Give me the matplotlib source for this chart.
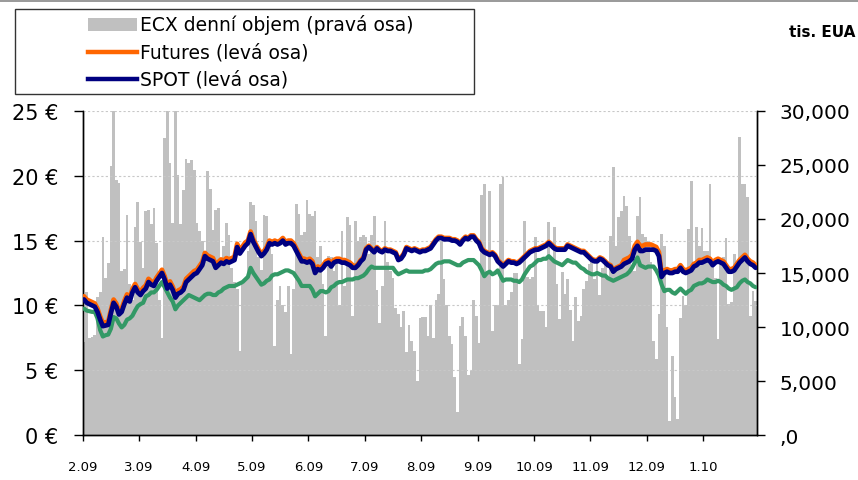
import matplotlib
matplotlib.use("Agg")
import matplotlib.pyplot as plt
from matplotlib.lines import Line2D
from matplotlib.patches import Rectangle
import numpy as np

plt.rcParams['font.family'] = ['DejaVu Sans']

month_labels = ["2.09", "3.09", "4.09", "5.09", "6.09", "7.09", "8.09",
                "9.09", "10.09", "11.09", "12.09", "1.10"]
days_per_tick = 21

# ECX daily volume (thousand EUA), right axis
volume = [
    8.6, 13.2, 9.0, 9.1, 9.3, 12.8, 13.2, 18.3, 14.5, 15.9,
    24.9, 31.0, 23.6, 23.3, 15.2, 15.4, 20.4, 14.0, 12.5, 19.3,
    21.6, 17.9, 15.5, 20.7, 20.8, 19.5, 21.0, 17.8, 12.5, 9.0,
    27.5, 31.0, 25.2, 19.6, 31.0, 24.1, 19.5, 22.7, 25.6, 25.2,
    25.5, 24.5, 19.6, 18.9, 18.0, 16.0, 24.4, 22.8, 19.0, 20.8,
    21.0, 16.3, 17.5, 19.6, 18.5, 15.5, 14.2, 13.5, 7.8, 14.0,
    14.5, 17.0, 21.6, 21.3, 19.8, 16.5, 15.3, 20.4, 20.3, 17.4,
    16.8, 8.2, 12.5, 13.8, 12.0, 11.4, 13.8, 7.5, 13.5, 21.4,
    20.5, 18.5, 18.8, 21.8, 20.5, 20.3, 20.7, 16.5, 17.5, 14.0,
    9.2, 16.6, 16.5, 15.2, 15.9, 12.0, 18.9, 13.8, 20.2, 19.4,
    11.0, 19.8, 18.0, 18.3, 18.5, 18.3, 16.8, 18.5, 20.3, 13.4,
    10.4, 13.8, 19.8, 16.0, 15.2, 14.5, 11.8, 11.2, 10.0, 11.5,
    7.7, 10.2, 8.7, 7.8, 5.0, 10.8, 10.9, 10.9, 9.2, 12.0,
    9.0, 12.5, 13.1, 18.0, 14.4, 12.0, 9.2, 8.4, 5.4, 2.1,
    10.1, 10.9, 9.2, 5.6, 5.9, 12.5, 11.0, 8.5, 22.2, 23.2,
    15.0, 22.6, 9.6, 12.0, 12.0, 23.2, 23.9, 12.0, 12.5, 13.2,
    15.0, 15.0, 6.6, 8.9, 19.8, 14.6, 14.4, 14.6, 18.3, 12.0,
    11.5, 11.5, 10.0, 19.7, 16.3, 19.3, 14.0, 10.7, 15.1, 13.1,
    14.4, 11.6, 8.7, 12.8, 10.6, 11.0, 13.5, 14.3, 15.8, 16.3,
    14.4, 16.0, 13.0, 15.5, 16.3, 14.5, 18.4, 24.8, 17.5, 20.2,
    20.7, 22.1, 21.2, 18.4, 15.6, 15.2, 20.3, 22.0, 18.6, 18.3,
    18.0, 16.0, 8.7, 7.0, 11.2, 18.6, 17.5, 10.0, 1.3, 7.3,
    3.5, 1.5, 10.8, 12.9, 12.0, 19.1, 23.5, 15.6, 19.3, 17.5,
    19.2, 17.0, 17.0, 23.2, 15.7, 14.5, 8.9, 15.7, 16.5, 18.2,
    12.1, 12.3, 16.8, 15.7, 27.6, 23.2, 23.2, 22.0, 11.0, 13.3,
    12.4,
]

# SPOT price (EUR), left axis
spot = [
    10.46, 10.2, 10.1, 10.0, 9.9, 9.5, 8.9, 8.4, 8.45, 8.5,
    9.4, 10.2, 9.9, 9.3, 9.5, 10.1, 10.6, 10.3, 11.0, 11.4,
    11.0, 10.8, 11.1, 11.3, 11.8, 11.6, 11.5, 11.9, 12.2, 12.5,
    12.0, 11.3, 11.6, 11.2, 10.6, 10.9, 11.0, 11.2, 11.8, 12.0,
    12.2, 12.4, 12.5, 12.8, 13.1, 13.8, 13.6, 13.5, 13.4, 12.9,
    13.1, 13.3, 13.2, 13.4, 13.3, 13.4, 13.5, 14.5, 14.0, 14.3,
    14.6, 14.8, 15.5, 14.9, 14.5, 14.1, 13.8, 14.0, 14.3, 14.8,
    14.7, 14.8, 14.7, 14.8, 15.0, 14.7, 14.8, 14.8, 14.6, 14.2,
    13.8, 13.4, 13.4, 13.3, 13.4, 13.2, 12.5, 12.8, 12.7, 12.9,
    13.2, 13.3, 13.0, 13.3, 13.4, 13.4, 13.3, 13.3, 13.2, 13.1,
    12.9, 12.9, 13.1, 13.4, 13.6, 14.3, 14.5, 14.3, 14.1, 14.4,
    14.2, 14.1, 14.3, 14.2, 14.2, 14.1, 14.0, 13.5, 13.6, 13.9,
    14.4, 14.3, 14.2, 14.3, 14.2, 14.1, 14.2, 14.2, 14.3, 14.4,
    14.7, 15.0, 15.2, 15.2, 15.1, 15.1, 15.1, 15.0, 15.0, 14.9,
    14.7, 15.0, 15.2, 15.1, 15.3, 15.3, 15.0, 14.8, 14.3, 14.1,
    14.0, 13.9, 14.0, 13.8, 13.4, 13.2, 13.0, 13.2, 13.4, 13.3,
    13.3, 13.2, 13.3, 13.5, 13.7, 13.9, 14.1, 14.2, 14.3, 14.3,
    14.4, 14.5, 14.6, 14.8, 14.6, 14.4, 14.3, 14.3, 14.3, 14.3,
    14.6, 14.5, 14.4, 14.3, 14.2, 14.1, 14.1, 13.9, 13.7, 13.5,
    13.4, 13.4, 13.6, 13.5, 13.3, 13.1, 13.0, 12.6, 12.8, 12.9,
    13.0, 13.2, 13.3, 13.4, 13.6, 14.3, 14.6, 14.2, 14.2, 14.3,
    14.3, 14.3, 14.3, 14.2, 13.8, 12.2, 12.5, 12.6, 12.5, 12.5,
    12.6, 12.6, 12.9, 12.6, 12.5, 12.6, 12.7, 13.0, 13.1, 13.3,
    13.3, 13.4, 13.5, 13.4, 13.1, 13.3, 13.4, 13.3, 13.2, 12.9,
    12.6, 12.6, 12.7, 13.0, 13.3, 13.5, 13.7, 13.4, 13.2, 13.1,
    12.9,
]

# Futures price (EUR), left axis
futures = [
    10.7, 10.45, 10.35, 10.25, 10.15, 9.75, 9.15, 8.65, 8.7, 8.75,
    9.65, 10.45, 10.15, 9.55, 9.75, 10.35, 10.85, 10.55, 11.25, 11.65,
    11.25, 11.05, 11.35, 11.55, 12.05, 11.85, 11.75, 12.15, 12.45, 12.75,
    12.25, 11.55, 11.85, 11.45, 10.85, 11.15, 11.25, 11.45, 12.05, 12.25,
    12.45, 12.65, 12.75, 13.05, 13.35, 14.05, 13.85, 13.75, 13.65, 13.15,
    13.35, 13.55, 13.45, 13.65, 13.55, 13.65, 13.75, 14.75, 14.25, 14.55,
    14.85, 15.0, 15.7, 15.1, 14.7, 14.3, 14.0, 14.2, 14.5, 15.0,
    14.9, 15.0, 14.9, 15.0, 15.2, 14.9, 15.0, 15.0, 14.8, 14.4,
    14.0, 13.6, 13.6, 13.5, 13.6, 13.4, 12.7, 13.0, 12.9, 13.1,
    13.4, 13.5, 13.2, 13.5, 13.6, 13.6, 13.5, 13.5, 13.4, 13.3,
    13.1, 13.0, 13.2, 13.5, 13.7, 14.4, 14.6, 14.4, 14.2, 14.5,
    14.3, 14.2, 14.4, 14.3, 14.3, 14.2, 14.1, 13.6, 13.7, 14.0,
    14.5, 14.4, 14.3, 14.4, 14.3, 14.2, 14.3, 14.3, 14.4, 14.5,
    14.8, 15.1, 15.3, 15.3, 15.2, 15.2, 15.2, 15.1, 15.1, 15.0,
    14.8, 15.1, 15.3, 15.2, 15.4, 15.4, 15.1, 14.9, 14.4, 14.2,
    14.1, 14.0, 14.1, 13.9, 13.5, 13.3, 13.1, 13.3, 13.5, 13.4,
    13.4, 13.3, 13.4, 13.6, 13.8, 14.0, 14.2, 14.3, 14.4, 14.4,
    14.5, 14.6, 14.7, 14.9, 14.7, 14.5, 14.4, 14.4, 14.4, 14.4,
    14.7, 14.6, 14.5, 14.4, 14.3, 14.2, 14.2, 14.0, 13.8, 13.6,
    13.5, 13.5, 13.7, 13.6, 13.4, 13.2, 13.1, 12.7, 12.9, 13.0,
    13.1, 13.5, 13.6, 13.7, 13.9, 14.6, 14.9, 14.6, 14.6, 14.7,
    14.7, 14.7, 14.6, 14.5, 14.1, 12.4, 12.7, 12.8, 12.7, 12.7,
    12.8, 12.8, 13.1, 12.8, 12.7, 12.8, 12.9, 13.2, 13.3, 13.5,
    13.5, 13.6, 13.7, 13.6, 13.3, 13.5, 13.6, 13.5, 13.4, 13.1,
    12.8, 12.8, 12.9, 13.2, 13.5, 13.7, 13.9, 13.6, 13.4, 13.3,
    13.1,
]

# third (green) price series, left axis, no legend entry
green_series = [
    9.75, 9.6, 9.55, 9.5, 9.5, 9.0, 8.1, 7.6, 7.7, 7.75,
    8.2, 9.1, 9.0, 8.6, 8.3, 8.5, 8.9, 9.0, 9.2, 9.6,
    9.95, 10.1, 10.2, 10.7, 10.8, 11.0, 11.0, 11.2, 11.5, 11.8,
    11.4, 11.0, 10.6, 10.3, 9.7, 10.0, 10.2, 10.4, 10.6, 10.8,
    10.7, 10.6, 10.5, 10.4, 10.6, 10.8, 10.9, 10.9, 10.8, 10.8,
    11.0, 11.1, 11.3, 11.4, 11.5, 11.5, 11.5, 11.6, 11.7, 11.8,
    12.0, 12.2, 12.9, 12.5, 12.2, 11.9, 11.6, 11.7, 11.9, 12.0,
    12.3, 12.4, 12.4, 12.5, 12.6, 12.7, 12.7, 12.6, 12.5, 12.2,
    11.9, 11.5, 11.5, 11.5, 11.5, 11.2, 10.7, 10.9, 11.1, 11.1,
    11.0, 11.1, 11.4, 11.5, 11.7, 11.8, 11.8, 11.9, 12.0, 12.0,
    12.0, 12.1, 12.1, 12.2, 12.3, 12.5, 12.8, 13.0, 12.9, 12.9,
    12.9, 12.9, 12.9, 12.9, 12.9, 12.9, 12.6, 12.4, 12.5, 12.6,
    12.7, 12.6, 12.6, 12.6, 12.6, 12.6, 12.6, 12.7, 12.7, 12.8,
    13.0, 13.2, 13.3, 13.3, 13.4, 13.4, 13.4, 13.3, 13.2, 13.1,
    13.1, 13.3, 13.4, 13.5, 13.5, 13.5, 13.3, 13.1, 12.7, 12.25,
    12.5, 12.6, 12.4, 12.5, 12.7, 12.3, 11.9, 12.0, 12.0, 12.0,
    11.9, 11.9, 11.8, 12.0, 12.4, 12.7, 13.0, 13.1, 13.3, 13.5,
    13.5, 13.6, 13.6, 13.8, 13.6, 13.4, 13.3, 13.2, 13.1, 13.3,
    13.5, 13.4, 13.3, 13.3, 13.1, 12.9, 12.8, 12.6, 12.5, 12.4,
    12.4, 12.5, 12.4, 12.3, 12.3, 12.1, 12.0, 11.9, 12.0, 12.1,
    12.2, 12.3, 12.4, 12.6, 12.9, 13.3, 13.7, 13.1, 13.0, 12.9,
    13.0, 13.0, 13.0, 12.7, 12.3, 11.6, 11.1, 11.2, 11.2, 11.0,
    10.9, 11.1, 11.3, 11.1, 10.9, 11.1, 11.2, 11.5, 11.6, 11.7,
    11.7, 11.8, 12.0, 11.9, 11.8, 11.8, 11.9, 11.8, 11.6, 11.5,
    11.3, 11.2, 11.3, 11.4, 11.7, 11.9, 12.0, 11.8, 11.7, 11.5,
    11.4,
]

legend_labels = ["ECX denní objem (pravá osa)", "Futures (levá osa)", "SPOT (levá osa)"]
left_ticks = [0, 5, 10, 15, 20, 25]
left_tick_labels = ["0 €", "5 €", "10 €", "15 €", "20 €", "25 €"]
right_ticks = [0, 5000, 10000, 15000, 20000, 25000, 30000]
right_tick_labels = [",0", "5,000", "10,000", "15,000", "20,000", "25,000", "30,000"]
unit_label = "tis. EUA"

C_BAR = "#C0C0C0"
C_FUT = "#FF6600"
C_SPOT = "#000080"
C_GREEN = "#339966"

W, H = 858, 481
fig = plt.figure(figsize=(W / 100, H / 100), dpi=100)

def fx(px):
    return px / W

def fy(py):
    return 1 - py / H

ax = fig.add_axes([fx(82.7), fy(436), fx(757) - fx(82.7), fy(112) - fy(436)])
ax2 = ax.twinx()

n = len(spot)
x = np.arange(n)
vol_units = np.array(volume) * 1000.0

ax2.bar(x, vol_units, width=1.0, color=C_BAR, edgecolor="none", linewidth=0, zorder=1)
ax2.set_ylim(0, 30000)
ax2.set_yticks(right_ticks)
ax2.set_yticklabels(right_tick_labels)

ax.set_zorder(ax2.get_zorder() + 1)
ax.patch.set_visible(False)

ax.plot(x, green_series, color=C_GREEN, lw=3.0, solid_capstyle="round", zorder=3)
ax.plot(x, futures, color=C_FUT, lw=3.4, solid_capstyle="round", zorder=4)
ax.plot(x, spot, color=C_SPOT, lw=3.4, solid_capstyle="round", zorder=5)

ax.set_ylim(0, 25)
ax.set_xlim(-0.5, n - 0.5)
ax.set_yticks(left_ticks)
ax.set_yticklabels(left_tick_labels)
for yv in left_ticks[1:]:
    ax.axhline(yv, color="#C8C8C8", lw=0.8, ls=(0, (2, 2)), zorder=2)

tick_pos = [-0.5 + days_per_tick * k for k in range(len(month_labels))]
ax.set_xticks(tick_pos)
ax.set_xticklabels(month_labels)

for a in (ax, ax2):
    a.spines["top"].set_visible(False)
    for s in ("left", "right", "bottom"):
        a.spines[s].set_color("black")
        a.spines[s].set_linewidth(1.0)

ax.tick_params(axis="y", direction="out", length=6.5, width=1, labelsize=15, pad=11)
ax2.tick_params(axis="y", direction="out", length=6, width=1, labelsize=14.5, pad=10.5)
ax.tick_params(axis="x", direction="out", length=4, width=1, labelsize=9.5, pad=14)

# legend drawn manually
fig.patches.append(Rectangle((fx(15), fy(95)), fx(474) - fx(15), fy(10) - fy(95),
                             transform=fig.transFigure, facecolor="white",
                             edgecolor="#333333", lw=1.0, zorder=10))
rows_y = [25, 53, 80]
fig.patches.append(Rectangle((fx(88), fy(rows_y[0] + 6.5)), fx(137) - fx(88), fy(0) - fy(13),
                             transform=fig.transFigure, facecolor=C_BAR,
                             edgecolor="none", zorder=11))
fig.lines.append(Line2D([fx(88), fx(137)], [fy(rows_y[1]), fy(rows_y[1])],
                        transform=fig.transFigure, color=C_FUT, lw=3.2, zorder=11))
fig.lines.append(Line2D([fx(88), fx(137)], [fy(rows_y[2]), fy(rows_y[2])],
                        transform=fig.transFigure, color=C_SPOT, lw=3.2, zorder=11))
for lbl, yy in zip(legend_labels, rows_y):
    fig.text(fx(140), fy(yy), lbl, fontsize=13.5, va="center", ha="left", zorder=12)

fig.text(fx(855), fy(33), unit_label, fontsize=11, fontweight="bold", ha="right", va="center")

# thin frame line at top of the picture
fig.lines.append(Line2D([0, 1], [fy(1.5), fy(1.5)], transform=fig.transFigure,
                        color="#888888", lw=1.2))

fig.savefig("out.png", dpi=100)
